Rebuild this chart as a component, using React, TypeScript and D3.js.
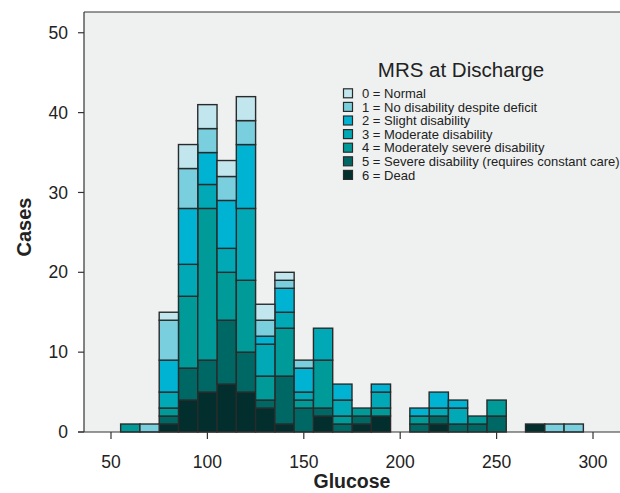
import React from 'react';
import * as d3 from 'd3';

// glucose bin centres (bin width 10)
const bins = [60, 70, 80, 90, 100, 110, 120, 130, 140, 150, 160, 170, 180, 190, 200, 210, 220, 230, 240, 250, 260, 270, 280, 290];

const categories = [
  '0 = Normal',
  '1 = No disability despite deficit',
  '2 = Slight disability',
  '3 = Moderate disability',
  '4 = Moderately severe disability',
  '5 = Severe disability (requires constant care)',
  '6 = Dead',
];
const colors = ['#c2e6ee', '#7acfdf', '#00b3d3', '#00a9b5', '#009a98', '#006864', '#032e2e'];

// counts per bin for each MRS score
const mrs0 = [0, 0, 1, 3, 3, 2, 3, 2, 1, 0, 0, 0, 0, 0, 0, 0, 0, 0, 0, 0, 0, 0, 0, 0];
const mrs1 = [0, 1, 5, 5, 3, 3, 3, 2, 1, 1, 0, 0, 0, 0, 0, 0, 0, 0, 0, 0, 0, 0, 1, 1];
const mrs2 = [0, 0, 4, 7, 4, 6, 8, 1, 3, 3, 0, 2, 0, 1, 0, 1, 2, 1, 0, 0, 0, 0, 0, 0];
const mrs3 = [0, 0, 2, 4, 3, 3, 9, 4, 2, 1, 4, 2, 0, 2, 0, 0, 1, 2, 0, 0, 0, 0, 0, 0];
const mrs4 = [1, 0, 1, 9, 19, 6, 9, 3, 6, 1, 6, 1, 1, 1, 0, 1, 0, 0, 1, 2, 0, 0, 0, 0];
const mrs5 = [0, 0, 1, 4, 4, 8, 5, 1, 6, 3, 1, 1, 1, 0, 0, 1, 1, 1, 1, 2, 0, 0, 0, 0];
const mrs6 = [0, 0, 1, 4, 5, 6, 5, 3, 1, 0, 2, 0, 1, 2, 0, 0, 1, 0, 0, 0, 0, 1, 0, 0];
const series = [mrs0, mrs1, mrs2, mrs3, mrs4, mrs5, mrs6];

const xTicks = [50, 100, 150, 200, 250, 300];
const yTicks = [0, 10, 20, 30, 40, 50];

const W = 620, H = 493;
const left = 84, top = 12, bottom = 432, right = 620;
const font = 'Liberation Sans, Arial, Helvetica, sans-serif';

const App = () => {
  const x = d3.scaleLinear().domain([36, 314]).range([left, right]);
  const y = d3.scaleLinear().domain([0, 52.6]).range([bottom, top]);

  const rows = bins.map((b, i) => {
    const r: any = { bin: b };
    series.forEach((s, k) => (r['k' + k] = s[i]));
    return r;
  });
  // stack from Dead (bottom) up to Normal (top)
  const keys = [6, 5, 4, 3, 2, 1, 0].map(k => 'k' + k);
  const stacked = d3.stack().keys(keys)(rows);

  return (
    <svg width={W} height={H} style={{ position: 'absolute', left: 0, top: 0, background: '#fff' }}>
      <rect x={left} y={top} width={right - left} height={bottom - top} fill="#eff1f0" />

      {stacked.map(layer => {
        const k = +layer.key.slice(1);
        return (
          <g key={layer.key}>
            {layer.map((d, i) =>
              d[1] - d[0] > 0 ? (
                <rect
                  key={i}
                  x={x(bins[i] - 5)}
                  width={x(bins[i] + 5) - x(bins[i] - 5)}
                  y={y(d[1])}
                  height={y(d[0]) - y(d[1])}
                  fill={colors[k]}
                  stroke="#2a2a2a"
                  strokeWidth={1.4}
                />
              ) : null
            )}
          </g>
        );
      })}

      {/* frame */}
      <line x1={left} x2={left} y1={top} y2={bottom} stroke="#333" strokeWidth={1.2} />
      <line x1={left} x2={right} y1={top} y2={top} stroke="#333" strokeWidth={1.2} />
      <line x1={left - 6} x2={right} y1={bottom} y2={bottom} stroke="#333" strokeWidth={1.2} />

      {/* y axis */}
      {yTicks.map(t => (
        <g key={t}>
          <line x1={left - 6} x2={left} y1={y(t)} y2={y(t)} stroke="#333" strokeWidth={1.2} />
          <text x={68} y={y(t)} dy="0.35em" textAnchor="end" fontFamily={font} fontSize={17.5} fill="#222">
            {t}
          </text>
        </g>
      ))}
      <text
        transform={`translate(31,${(top + bottom) / 2 + 5}) rotate(-90)`}
        textAnchor="middle"
        fontFamily={font}
        fontWeight="bold"
        fontSize={20}
        fill="#222"
      >
        Cases
      </text>

      {/* x axis */}
      {xTicks.map(t => (
        <g key={t}>
          <line x1={x(t)} x2={x(t)} y1={bottom} y2={bottom + 7} stroke="#333" strokeWidth={1.2} />
          <text x={x(t)} y={468} textAnchor="middle" fontFamily={font} fontSize={17.5} fill="#222">
            {t}
          </text>
        </g>
      ))}
      <text x={(x(150) + x(200)) / 2} y={488} textAnchor="middle" fontFamily={font} fontWeight="bold" fontSize={19.5} fill="#222">
        Glucose
      </text>

      {/* legend */}
      <text x={461} y={77} textAnchor="middle" fontFamily={font} fontSize={20.5} fill="#222">
        MRS at Discharge
      </text>
      {categories.map((c, i) => (
        <g key={c} transform={`translate(343,${93.3 + i * 13.6})`}>
          <rect x={0.5} y={-4.5} width={9} height={9} fill={colors[i]} stroke="#2a2a2a" strokeWidth={1.2} />
          <text x={19} y={0} dy="0.36em" fontFamily={font} fontSize={13} fill="#222">
            {c}
          </text>
        </g>
      ))}
    </svg>
  );
};

export default App;
